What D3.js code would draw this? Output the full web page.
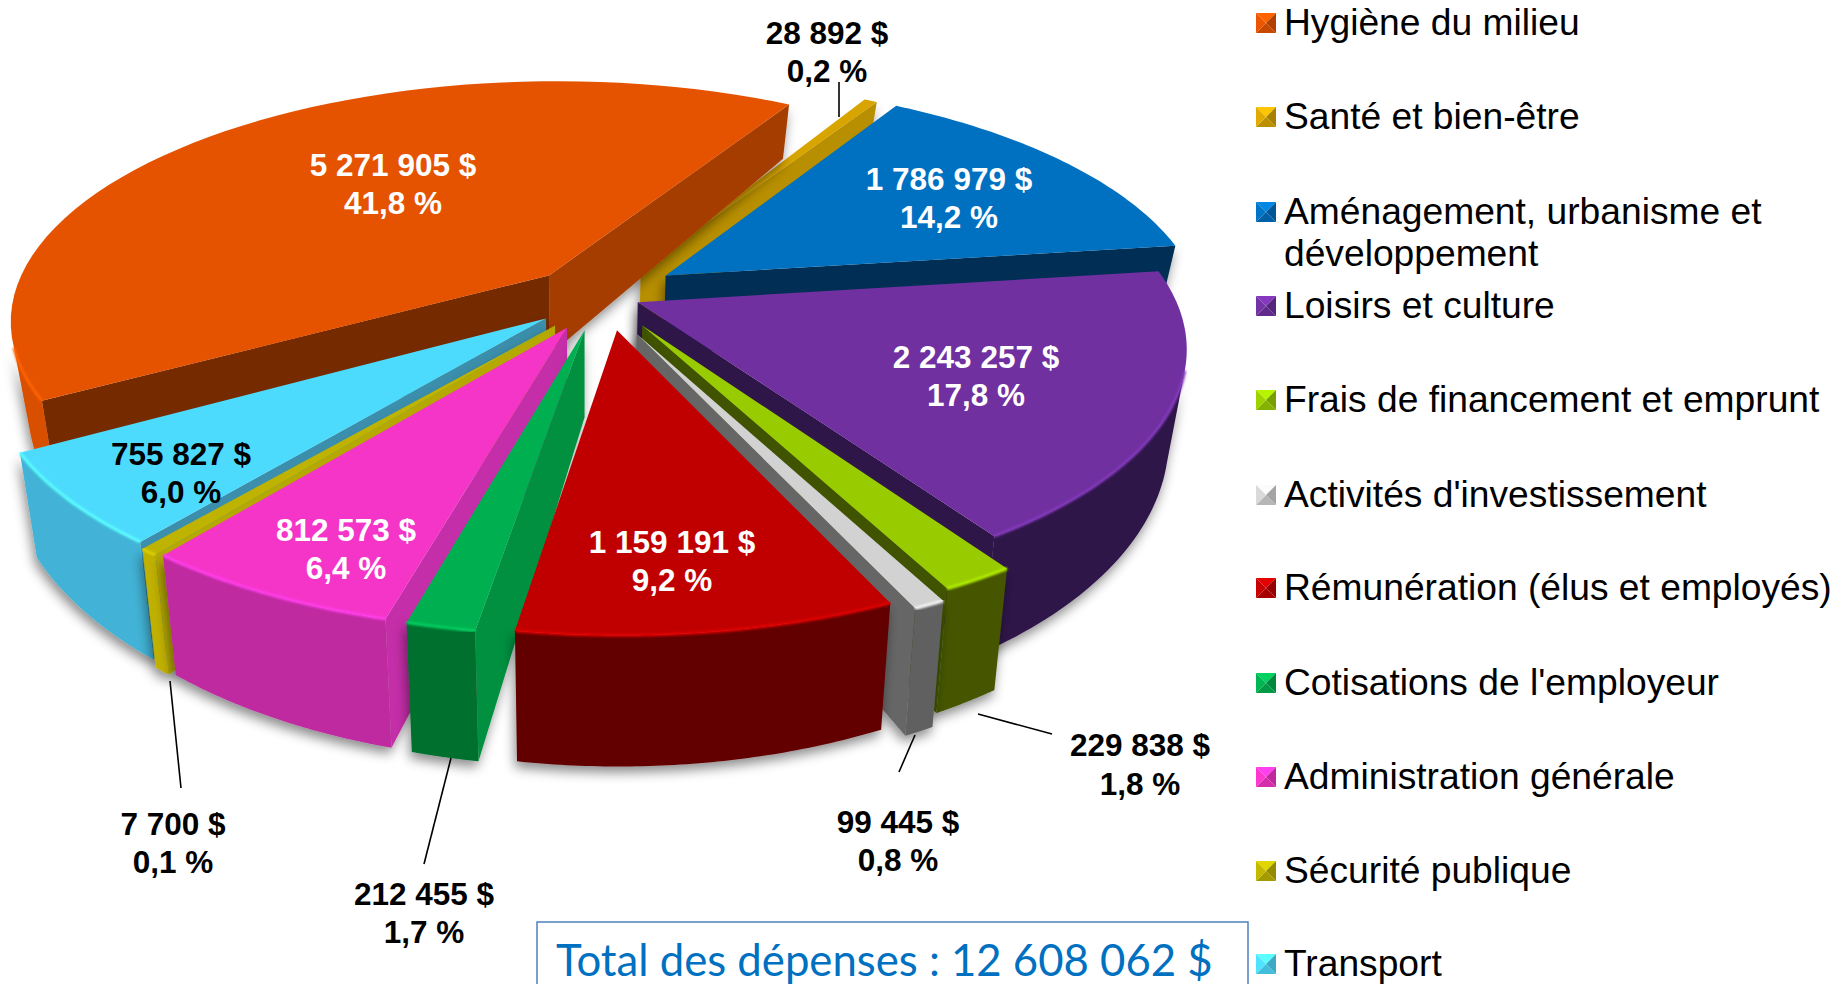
<!DOCTYPE html>
<html>
<head>
<meta charset="utf-8">
<title>Dépenses</title>
<script src="https://cdn.jsdelivr.net/npm/d3@7"></script>
<style>
body { margin: 0; background: #fff; overflow: hidden; }
text { font-family: "Liberation Sans", Arial, sans-serif; }
</style>
</head>
<body>
<div id="chart"></div>
<script>
// chart data
var categories = ["Hygiène du milieu", "Santé et bien-être", "Aménagement, urbanisme et|développement",
    "Loisirs et culture", "Frais de financement et emprunt", "Activités d'investissement",
    "Rémunération (élus et employés)", "Cotisations de l'employeur", "Administration générale",
    "Sécurité publique", "Transport"];
var values = [5271905, 28892, 1786979, 2243257, 229838, 99445, 1159191, 212455, 812573, 7700, 755827];
var totalLabel = "Total des dépenses : 12 608 062 $";

// colours per slice
var topColors = ["#E55300", "#D8A500", "#0070C0", "#7030A0", "#99CC00", "#D2D2D2", "#C00000", "#00B050", "#F535C8", "#BDB300", "#4DDBFD"];
var startWalls = ["#742B00", "#B88F00", "#012F55", "#2E1248", "#3F5200", "#666666", "#620000", "#009040", "#C42DA8", "#B5A800", "#3B8FAC"];
var endWalls = ["#A63E02", "#B88F00", "#012F55", "#2E1248", "#3F5200", "#666666", "#620000", "#009040", "#C42DA8", "#B5A800", "#3B8FAC"];
var outerWalls = ["#D94F00", "#B88F00", "#012F55", "#2E1248", "#445500", "#606060", "#620000", "#00702F", "#BF2CA0", "#C0B000", "#43B3D6"];
var labelColors = ["#fff", "#000", "#fff", "#fff", "#000", "#000", "#fff", "#000", "#fff", "#000", "#000"];

// how far each slice is pulled out on the pie plane, in pie radii
var offsetU = [-0.108, 0.066, 0.113, 0.059, 0.066, 0.056, 0.02, -0.039, -0.071, -0.093, -0.11];
var offsetV = [0.076, 0.102, 0.076, -0.039, -0.135, -0.169, -0.154, -0.154, -0.144, -0.135, -0.106];
// tiny slices get a visible minimum width
var minSweep = 1.7 * Math.PI / 180;

// label centres: x, y of first line, y of second line
var labelPos = [[393, 164, 202], [827, 32, 70], [949, 178, 216], [976, 356, 394], [1140, 744, 783], [898, 821, 859],
    [672, 541, 579], [424, 893, 931], [346, 529, 567], [173, 823, 861], [181, 453, 491]];
var leaders = [[839, 82, 839, 117], [170, 681, 181, 788], [451, 758, 424, 864], [915, 735, 899, 772], [978, 714, 1052, 734]];
var legendY = [23, 117, 212, 306, 400, 495, 588, 683, 777, 871, 964];

var width = 1835;
var height = 984;

// projection of the pie plane
var cx = 606, cy = 293, kx = 535, ky = 235, persp = 0.18;
var startAngle = 240 * Math.PI / 180;

function project(u, v) {
    var w = 1 + persp * v;
    return [cx + u * kx / w, cy - v * ky / w];
}
// bottom of the slab under a top point
function drop(p) {
    return [p[0] + (585 - p[0]) * 0.03, p[1] + 54 + (p[1] - 103) * 0.145];
}
// d3.polygonArea is positive for counter-clockwise on screen, faces here wind clockwise
function facing(pts) {
    return d3.polygonArea(pts) < 0;
}

var svg = d3.select("#chart").append("svg").attr("width", width).attr("height", height);
var line = d3.line();

var defs = svg.append("defs");
var shadow = defs.append("filter").attr("id", "shadow")
    .attr("x", "-20%").attr("y", "-20%").attr("width", "140%").attr("height", "140%");
shadow.append("feDropShadow").attr("dx", -2).attr("dy", 6).attr("stdDeviation", 6)
    .attr("flood-color", "#000").attr("flood-opacity", 0.45);
defs.append("filter").attr("id", "soft").append("feGaussianBlur").attr("stdDeviation", 1.2);
defs.append("filter").attr("id", "marker").append("feGaussianBlur").attr("stdDeviation", 0.6);

var pie = d3.pie().sort(null).startAngle(startAngle).endAngle(startAngle + 2 * Math.PI);
var slices = pie(values);

slices.forEach(function (d) {
    var mid = (d.startAngle + d.endAngle) / 2;
    var sweep = Math.max(d.endAngle - d.startAngle, minSweep);
    var ou = offsetU[d.index], ov = offsetV[d.index];
    d.mid = mid;
    d.apex = project(ou, ov);
    d.arc = d3.range(0, 61).map(function (i) {
        var a = mid - sweep / 2 + sweep * i / 60;
        return project(ou + Math.sin(a), ov + Math.cos(a));
    });
});

// far slices first, near ones paint over them
var ordered = slices.slice().sort(function (a, b) { return Math.cos(b.mid) - Math.cos(a.mid); });

ordered.forEach(function (d) {
    var i = d.index;
    var g = svg.append("g");
    var walls = g.append("g").attr("filter", "url(#shadow)");
    var A = d.apex, A2 = drop(A);
    var S = d.arc[0], E = d.arc[d.arc.length - 1];

    var startQuad = [S, A, A2, drop(S)];
    var endQuad = [A, E, drop(E), A2];
    if (facing(startQuad)) walls.append("path").attr("d", line(startQuad) + "Z").attr("fill", startWalls[i]);
    if (facing(endQuad)) walls.append("path").attr("d", line(endQuad) + "Z").attr("fill", endWalls[i]);

    // outer wall, only the segments that face the viewer
    var front = [];
    for (var k = 0; k < d.arc.length - 1; k++) {
        var P = d.arc[k], Q = d.arc[k + 1];
        if (facing([Q, P, drop(P), drop(Q)])) {
            if (!front.length) front.push(P);
            front.push(Q);
        }
    }
    if (front.length) {
        var wall = front.concat(front.map(drop).reverse());
        walls.append("path").attr("d", line(wall) + "Z").attr("fill", outerWalls[i]);
    }

    g.append("path")
        .attr("d", line([A].concat(d.arc)) + "Z")
        .attr("fill", topColors[i]);

    // bevel along the front rim
    if (front.length) {
        g.append("path")
            .attr("d", line(front))
            .attr("fill", "none")
            .attr("stroke", d3.color(topColors[i]).brighter(0.45))
            .attr("stroke-width", 3)
            .attr("filter", "url(#soft)");
    }
});

// leader lines
svg.selectAll(".leader").data(leaders).enter().append("line")
    .attr("x1", d => d[0]).attr("y1", d => d[1])
    .attr("x2", d => d[2]).attr("y2", d => d[3])
    .attr("stroke", "#000").attr("stroke-width", 1.6);

// value labels
var frLocale = d3.formatLocale({ decimal: ",", thousands: " ", grouping: [3], currency: ["", " $"] });
var fmtValue = frLocale.format(",");
var fmtPct = frLocale.format(".1f");
var total = d3.sum(values);

var labels = svg.selectAll(".label").data(slices).enter().append("g")
    .attr("font-weight", "bold").attr("font-size", 31.5).attr("text-anchor", "middle")
    .attr("fill", d => labelColors[d.index]);
labels.append("text")
    .attr("x", d => labelPos[d.index][0]).attr("y", d => labelPos[d.index][1] + 11.5)
    .text(d => `${fmtValue(d.value)} $`);
labels.append("text")
    .attr("x", d => labelPos[d.index][0]).attr("y", d => labelPos[d.index][2] + 11.5)
    .text(d => `${fmtPct(d.value / total * 100)} %`);

// legend
var legend = svg.selectAll(".legend").data(categories).enter().append("g")
    .attr("transform", (d, i) => `translate(1256, ${legendY[i]})`);
legend.each(function (d, i) {
    var g = d3.select(this);
    var s = 10, c = d3.color(topColors[i]);
    var h = g.append("g").attr("transform", "translate(10, 0)").attr("filter", "url(#marker)");
    // little pyramid faces of the marker
    h.append("path").attr("d", line([[-s, -s], [s, -s], [0, 0]]) + "Z").attr("fill", c.brighter(0.5));
    h.append("path").attr("d", line([[s, -s], [s, s], [0, 0]]) + "Z").attr("fill", c.darker(0.7));
    h.append("path").attr("d", line([[-s, s], [s, s], [0, 0]]) + "Z").attr("fill", c.darker(0.4));
    h.append("path").attr("d", line([[-s, -s], [-s, s], [0, 0]]) + "Z").attr("fill", c.brighter(0.1));
    d.split("|").forEach(function (t, j) {
        g.append("text").attr("x", 28).attr("y", 12 + j * 42).attr("font-size", 37.2).attr("fill", "#000").text(t);
    });
});

// total box, runs off the bottom of the frame
svg.append("rect").attr("x", 537).attr("y", 922).attr("width", 711).attr("height", 100)
    .attr("fill", "#fff").attr("stroke", "#4F81BD").attr("stroke-width", 1.5);
svg.append("text").attr("x", 556).attr("y", 976)
    .style("font-family", "Lato, sans-serif")
    .attr("font-size", 43.7).attr("fill", "#0070C0")
    .text(totalLabel);
</script>
</body>
</html>
